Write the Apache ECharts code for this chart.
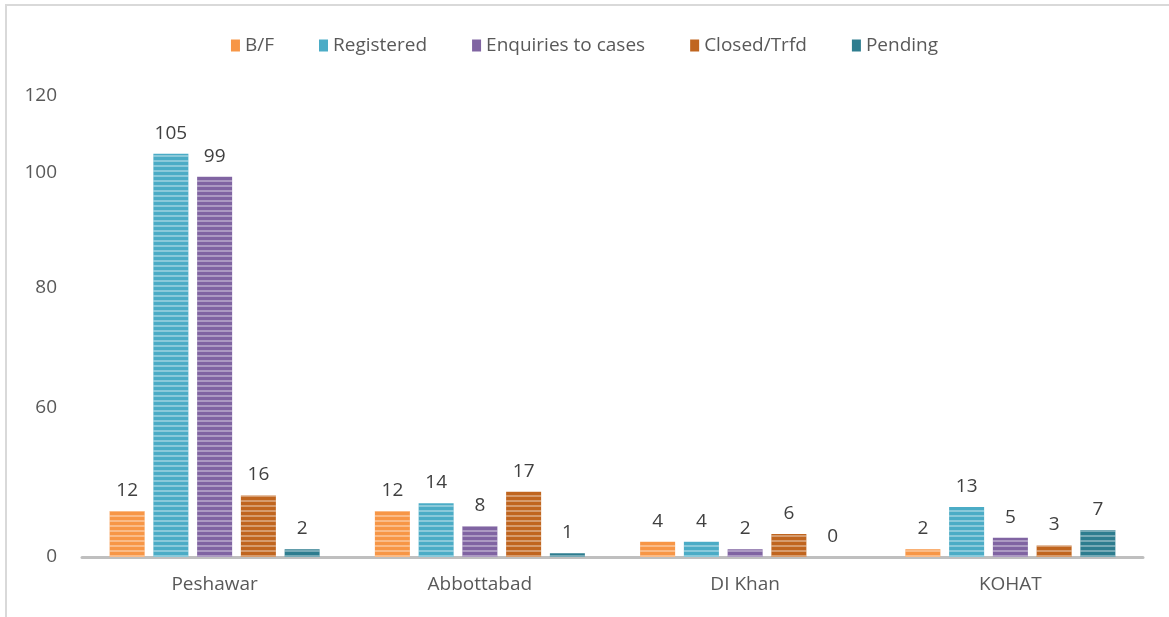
<!DOCTYPE html>
<html>
<head>
<meta charset="utf-8">
<script src="https://cdn.jsdelivr.net/npm/echarts@6/dist/echarts.min.js"></script>
<style>
html,body{margin:0;padding:0;background:#fff;}
#chart{position:absolute;left:0;top:0;width:1169px;height:617px;}
#frame{position:absolute;left:5px;top:4px;width:1164px;height:613px;border-top:2px solid #d9d9d9;border-left:2px solid #d9d9d9;box-sizing:border-box;pointer-events:none;}
</style>
</head>
<body>
<div id="chart"></div>
<div id="frame"></div>
<script>
const categories = ['Peshawar', 'Abbottabad', 'DI Khan', 'KOHAT'];
const seriesNames = ['B/F', 'Registered', 'Enquiries to cases', 'Closed/Trfd', 'Pending'];
const bf = [12, 12, 4, 2];
const registered = [105, 14, 4, 13];
const enquiries = [99, 8, 2, 5];
const closed = [16, 17, 6, 3];
const pending = [2, 1, 0, 7];
const yTickLabels = ['0', '60', '80', '100', '120'];

// where the reference prints its tick labels along the 0-120 scale
const yTickAt = [0, 39, 70, 100, 120];
const colors = ['#F79646', '#4BACC6', '#8064A2', '#C0651F', '#2E7D8F'];
const allValues = [bf, registered, enquiries, closed, pending];

const chart = echarts.init(document.getElementById('chart'), null, {renderer: 'canvas'});
const FONT = 'Open Sans';

const stripe = {
  symbol: 'rect',
  symbolSize: 1,
  dashArrayX: [1, 0],
  dashArrayY: [2, 3],
  rotation: 0,
  color: 'rgba(255,255,255,0.35)'
};

const series = seriesNames.map((name, i) => ({
  name: name,
  type: 'bar',
  data: allValues[i],
  barWidth: 35,
  barGap: '25%',
  itemStyle: {color: colors[i], decal: stripe},
  label: {
    show: true,
    position: 'top',
    distance: 11,
    color: '#404040',
    fontFamily: FONT,
    fontSize: 19
  }
}));

chart.setOption({
  animation: false,
  backgroundColor: '#fff',
  legend: {
    top: 31,
    left: 'center',
    itemWidth: 9,
    itemHeight: 12,
    itemGap: 45,
    icon: 'rect',
    textStyle: {color: '#595959', fontFamily: FONT, fontSize: 19},
    data: seriesNames.map((n, i) => ({name: n, itemStyle: {color: colors[i], decal: 'none'}}))
  },
  grid: {left: 82, right: 26, top: 96, bottom: 60, containLabel: false},
  xAxis: {
    type: 'category',
    data: categories,
    axisLine: {show: true, lineStyle: {color: '#BFBFBF', width: 3}},
    axisTick: {show: false},
    axisLabel: {color: '#595959', fontFamily: FONT, fontSize: 19, margin: 18}
  },
  yAxis: {
    type: 'value',
    min: 0,
    max: 120,
    splitLine: {show: false},
    axisLine: {show: false},
    axisTick: {show: false},
    axisLabel: {
      customValues: yTickAt,
      formatter: function (v) {
        const idx = yTickAt.indexOf(v);
        return idx >= 0 ? yTickLabels[idx] : '';
      },
      color: '#595959',
      fontFamily: FONT,
      fontSize: 19,
      margin: 25
    }
  },
  series: series
});
</script>
</body>
</html>
